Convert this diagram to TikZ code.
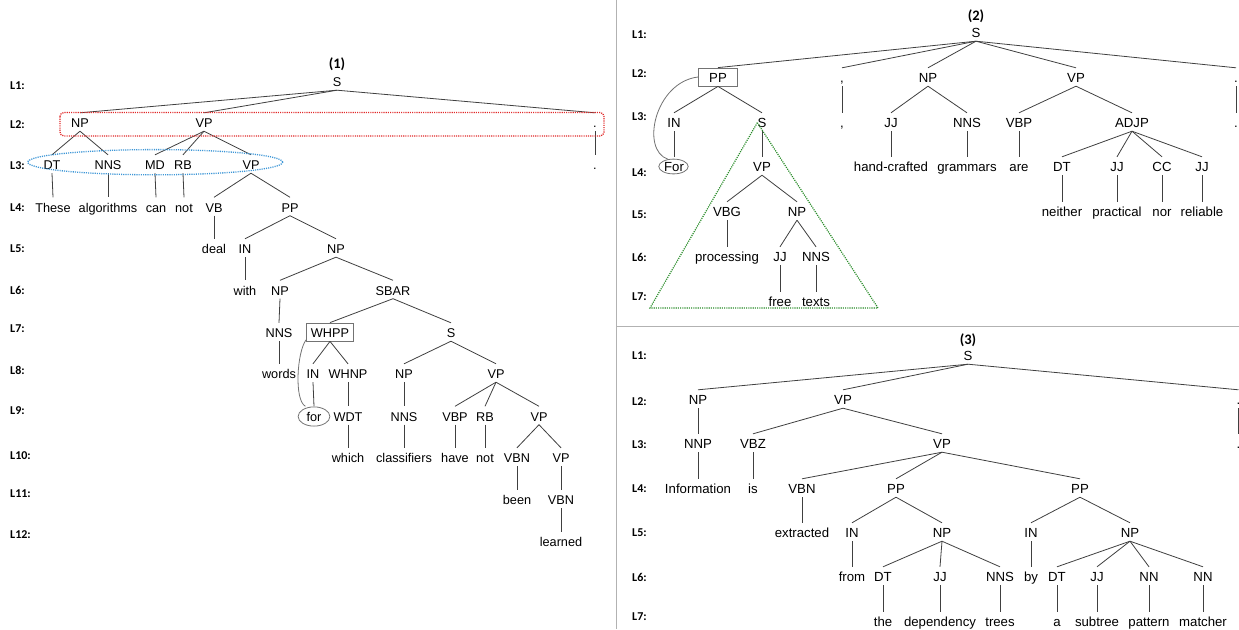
\documentclass[tikz,border=0pt]{standalone}
\usepackage{fontspec}
\setmainfont{Liberation Sans}
\newfontfamily\labfont{Carlito}
\begin{document}
\begin{tikzpicture}[x=1pt,y=-1pt,
  t/.style={anchor=base, yshift=-4.5pt, text height=11pt, text depth=0pt, inner ysep=3.5pt, inner xsep=1pt},
  e/.style={draw=black!75, line width=0.8pt},
  boxed/.style={draw=black!55, line width=0.8pt},
  lab/.style={anchor=west, inner sep=0pt, font=\labfont\bfseries\fontsize{12}{12}\selectfont},
  ttl/.style={inner sep=0pt, font=\labfont\bfseries\fontsize{14.5}{14.5}\selectfont},
  reddot/.style={draw={rgb,255:red,225;green,40;blue,40}, line width=1.3pt, dash pattern=on 1.1pt off 1.1pt},
  bluedot/.style={draw={rgb,255:red,60;green,150;blue,215}, line width=1.3pt, dash pattern=on 1.1pt off 1.1pt},
  greendot/.style={draw={rgb,255:red,40;green,140;blue,40}, line width=1.2pt, dash pattern=on 1.1pt off 1.1pt},
  divider/.style={draw=black!30, line width=1pt}]
\useasboundingbox (0,0) rectangle (1239,629);
\fill[white] (0,0) rectangle (1239,629);

% dividers
\draw[divider] (616,0) -- (616,629);
\draw[divider] (616,326) -- (1239,326);

% ---------- labels ----------
\foreach \n/\yy in {1/86,2/125,3/166,4/208,5/249,6/290,7/329,8/370,9/411,10/456,11/494,12/535}
  \node[lab] (la\n) at (10,\yy) {L\n:};
\foreach \n/\yy in {1/35,2/74,3/117,4/173,5/215,6/257,7/297}
  \node[lab] (lb\n) at (632,\yy) {L\n:};
\foreach \n/\yy in {1/356,2/402,3/445,4/489,5/533,6/577,7/617}
  \node[lab] (lc\n) at (632,\yy) {L\n:};

\node[ttl] (ta) at (337,64) {(1)};
\node[ttl] (tb) at (976,16) {(2)};
\node[ttl] (tc) at (968,340) {(3)};

% ---------- tree (1) ----------
\begin{scope}[every node/.append style={font=\fontsize{12.7}{14}\selectfont}]
\node[t] (aS) at (337,82) {S};
\node[t] (aNP) at (80,123) {NP};
\node[t] (aVP) at (204,123) {VP};
\node[t] (aP1) at (595,123) {.};
\node[t] (aDT) at (52,165) {DT};
\node[t] (aNNS) at (108,165) {NNS};
\node[t] (aMD) at (155,165) {MD};
\node[t] (aRB) at (183,165) {RB};
\node[t] (aVPb) at (251,165) {VP};
\node[t] (aP2) at (595,165) {.};
\node[t] (aw1) at (53,207.5) {These};
\node[t] (aw2) at (108,207.5) {algorithms};
\node[t] (aw3) at (156,207.5) {can};
\node[t] (aw4) at (184,207.5) {not};
\node[t] (aVB) at (214,207.5) {VB};
\node[t] (aPP) at (290,207.5) {PP};
\node[t] (aw5) at (214,249) {deal};
\node[t] (aIN) at (245,249) {IN};
\node[t] (aNPb) at (336,249) {NP};
\node[t] (aw6) at (245,290.5) {with};
\node[t] (aNPc) at (280,290.5) {NP};
\node[t] (aSBAR) at (393,290.5) {SBAR};
\node[t] (aNNSb) at (279,333) {NNS};
\node[t, boxed, inner xsep=4.5pt] (aWHPP) at (330,333) {WHPP};
\node[t] (aSb) at (451,333) {S};
\node[t] (aw7) at (279,374) {words};
\node[t] (aINb) at (313,374) {IN};
\node[t] (aWHNP) at (348,374) {WHNP};
\node[t] (aNPd) at (404,374) {NP};
\node[t] (aVPc) at (496,374) {VP};
\node[t] (aw8) at (314,416.5) {for};
\node[t] (aWDT) at (348,416.5) {WDT};
\node[t] (aNNSc) at (404,416.5) {NNS};
\node[t] (aVBP) at (455,416.5) {VBP};
\node[t] (aRBb) at (485,416.5) {RB};
\node[t] (aVPd) at (539,416.5) {VP};
\node[t] (aw9) at (348,458) {which};
\node[t] (aw10) at (404,458) {classifiers};
\node[t] (aw11) at (455,458) {have};
\node[t] (aw12) at (485,458) {not};
\node[t] (aVBN) at (517,458) {VBN};
\node[t] (aVPe) at (561,458) {VP};
\node[t] (aw13) at (517,500) {been};
\node[t] (aVBNb) at (561,500) {VBN};
\node[t] (aw14) at (561,542) {learned};
\end{scope}
\foreach \p/\c in {aS/aNP,aS/aVP,aS/aP1,aP1/aP2,aNP/aDT,aNP/aNNS,aDT/aw1,aNNS/aw2,
  aVP/aMD,aVP/aRB,aVP/aVPb,aMD/aw3,aRB/aw4,aVPb/aVB,aVPb/aPP,aVB/aw5,aPP/aIN,aPP/aNPb,
  aIN/aw6,aNPb/aNPc,aNPb/aSBAR,aNPc/aNNSb,aNNSb/aw7,aSBAR/aWHPP,aSBAR/aSb,aWHPP/aINb,
  aWHPP/aWHNP,aINb/aw8,aWHNP/aWDT,aWDT/aw9,aSb/aNPd,aSb/aVPc,aNPd/aNNSc,aNNSc/aw10,
  aVPc/aVBP,aVPc/aRBb,aVPc/aVPd,aVBP/aw11,aRBb/aw12,aVPd/aVBN,aVPd/aVPe,aVBN/aw13,
  aVPe/aVBNb,aVBNb/aw14}
  \draw[e] (\p.south) -- (\c.north);
\draw[reddot, rounded corners=4pt] (60,112.5) rectangle (604,136);
\draw[bluedot] (155.2,162.2) ellipse [x radius=127.5pt, y radius=12.6pt];
\draw[boxed] (314,416.5) ellipse [x radius=15.9pt, y radius=9.6pt];
\draw[boxed] (aWHPP.south west) ++(0,-1.5) .. controls (297,352) and (294,400) .. (aw8.north west);

% ---------- tree (2) ----------
\begin{scope}[every node/.append style={font=\fontsize{13.2}{15}\selectfont}]
\node[t] (bS) at (976,33) {S};
\node[t, boxed, minimum width=39pt] (bPP) at (718,78) {PP};
\node[t] (bC1) at (842,78) {,};
\node[t] (bNP) at (928,78) {NP};
\node[t] (bVP) at (1076,78) {VP};
\node[t] (bP1) at (1236,78) {.};
\node[t] (bIN) at (674,123) {IN};
\node[t] (bSb) at (762,123) {S};
\node[t] (bC2) at (842,123) {,};
\node[t] (bJJ) at (891,123) {JJ};
\node[t] (bNNS) at (967,123) {NNS};
\node[t] (bVBP) at (1019,123) {VBP};
\node[t] (bADJP) at (1132,123) {ADJP};
\node[t] (bP2) at (1236,123) {.};
\node[t] (bw1) at (674,167) {For};
\node[t] (bVPb) at (762,167) {VP};
\node[t] (bw2) at (891,167) {hand-crafted};
\node[t] (bw3) at (967,167) {grammars};
\node[t] (bw4) at (1019,167) {are};
\node[t] (bDT) at (1062,167) {DT};
\node[t] (bJJb) at (1117,167) {JJ};
\node[t] (bCC) at (1162,167) {CC};
\node[t] (bJJc) at (1202,167) {JJ};
\node[t] (bVBG) at (727,212) {VBG};
\node[t] (bNPb) at (797,212) {NP};
\node[t] (bw5) at (1062,212) {neither};
\node[t] (bw6) at (1117,212) {practical};
\node[t] (bw7) at (1162,212) {nor};
\node[t] (bw8) at (1202,212) {reliable};
\node[t] (bw9) at (727,257) {processing};
\node[t] (bJJd) at (780,257) {JJ};
\node[t] (bNNSb) at (816,257) {NNS};
\node[t] (bw10) at (780,302) {free};
\node[t] (bw11) at (816,302) {texts};
\end{scope}
\foreach \p/\c in {bS/bPP,bS/bC1,bS/bNP,bS/bVP,bS/bP1,bC1/bC2,bP1/bP2,bPP/bIN,bPP/bSb,
  bIN/bw1,bSb/bVPb,bVPb/bVBG,bVPb/bNPb,bVBG/bw9,bNPb/bJJd,bNPb/bNNSb,bJJd/bw10,bNNSb/bw11,
  bNP/bJJ,bNP/bNNS,bJJ/bw2,bNNS/bw3,bVP/bVBP,bVP/bADJP,bVBP/bw4,bADJP/bDT,bADJP/bJJb,
  bADJP/bCC,bADJP/bJJc,bDT/bw5,bJJb/bw6,bCC/bw7,bJJc/bw8}
  \draw[e] (\p.south) -- (\c.north);
\draw[boxed] (673.5,166.5) ellipse [x radius=14.7pt, y radius=7.4pt];
\draw[boxed] (bPP.west) .. controls (655,82) and (640,150) .. (668,159.3);
\draw[greendot] (757.3,122.7) -- (878,308) -- (650,308) -- cycle;

% ---------- tree (3) ----------
\begin{scope}[every node/.append style={font=\fontsize{13.2}{15}\selectfont}]
\node[t] (cS) at (968,356) {S};
\node[t] (cNP) at (698,400) {NP};
\node[t] (cVP) at (843,400) {VP};
\node[t] (cP1) at (1238.5,400) {.};
\node[t] (cNNP) at (698,444) {NNP};
\node[t] (cVBZ) at (753,444) {VBZ};
\node[t] (cVPb) at (942,444) {VP};
\node[t] (cP2) at (1238.5,444) {.};
\node[t] (cw1) at (698,489) {Information};
\node[t] (cw2) at (753,489) {is};
\node[t] (cVBN) at (802,489) {VBN};
\node[t] (cPP) at (896,489) {PP};
\node[t] (cPPb) at (1080,489) {PP};
\node[t] (cw3) at (802,533) {extracted};
\node[t] (cIN) at (852,533) {IN};
\node[t] (cNPb) at (942,533) {NP};
\node[t] (cINb) at (1031,533) {IN};
\node[t] (cNPc) at (1130,533) {NP};
\node[t] (cw4) at (852,577) {from};
\node[t] (cDT) at (883,577) {DT};
\node[t] (cJJ) at (940,577) {JJ};
\node[t] (cNNS) at (1000,577) {NNS};
\node[t] (cw5) at (1031,577) {by};
\node[t] (cDTb) at (1057,577) {DT};
\node[t] (cJJb) at (1097,577) {JJ};
\node[t] (cNN) at (1149,577) {NN};
\node[t] (cNNb) at (1203,577) {NN};
\node[t] (cw6) at (883,622) {the};
\node[t] (cw7) at (940,622) {dependency};
\node[t] (cw8) at (1000,622) {trees};
\node[t] (cw9) at (1057,622) {a};
\node[t] (cw10) at (1097,622) {subtree};
\node[t] (cw11) at (1149,622) {pattern};
\node[t] (cw12) at (1203,622) {matcher};
\end{scope}
\foreach \p/\c in {cS/cNP,cS/cVP,cS/cP1,cP1/cP2,cNP/cNNP,cNNP/cw1,cVP/cVBZ,cVP/cVPb,cVBZ/cw2,
  cVPb/cVBN,cVPb/cPP,cVPb/cPPb,cVBN/cw3,cPP/cIN,cPP/cNPb,cIN/cw4,cNPb/cDT,cNPb/cJJ,cNPb/cNNS,
  cDT/cw6,cJJ/cw7,cNNS/cw8,cPPb/cINb,cPPb/cNPc,cINb/cw5,cNPc/cDTb,cNPc/cJJb,cNPc/cNN,cNPc/cNNb,
  cDTb/cw9,cJJb/cw10,cNN/cw11,cNNb/cw12}
  \draw[e] (\p.south) -- (\c.north);
\end{tikzpicture}
\end{document}
